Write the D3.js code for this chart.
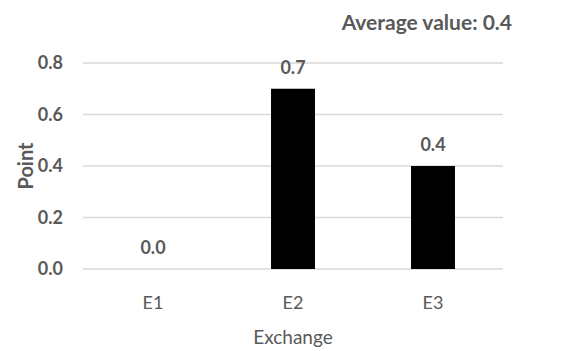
<!DOCTYPE html>
<html>
<head>
<meta charset="utf-8">
<script src="https://cdn.jsdelivr.net/npm/d3@7"></script>
<style>
  body { margin: 0; background: #fff; }
  text { font-family: Lato, "Open Sans", sans-serif; fill: #595959; }
</style>
</head>
<body>
<script>
// chart data
const categories = ["E1", "E2", "E3"];
const values = [0.0, 0.7, 0.4];
const yTicks = [0, 0.2, 0.4, 0.6, 0.8];
const averageLabel = "Average value: 0.4";

const width = 570;
const height = 351;
const marginTop = 63;
const marginRight = 67;
const marginBottom = 82;
const marginLeft = 83;

const svg = d3.select("body")
    .append("svg")
    .attr("width", width)
    .attr("height", height);

const x = d3.scaleBand()
    .domain(categories)
    .range([marginLeft, width - marginRight])
    .paddingInner(0.686)
    .paddingOuter(0.343);

const y = d3.scaleLinear()
    .domain([0, 0.8])
    .range([height - marginBottom, marginTop]);

// gridlines
svg.append("g")
    .selectAll("line")
    .data(yTicks)
    .join("line")
    .attr("x1", marginLeft)
    .attr("x2", width - marginRight)
    .attr("y1", d => y(d))
    .attr("y2", d => y(d))
    .attr("stroke", "#d9d9d9")
    .attr("stroke-width", 1.5);

// y axis labels
const yAxis = svg.append("g")
    .attr("transform", `translate(${marginLeft - 8},0)`)
    .call(d3.axisLeft(y).tickValues(yTicks).tickFormat(d3.format(".1f")).tickSize(0).tickPadding(12));
yAxis.select(".domain").remove();
yAxis.selectAll("text")
    .attr("font-size", 18)
    .attr("font-weight", 700)
    .style("font-family", 'Lato, sans-serif')
    .attr("fill", "#595959");

// x axis labels
const xAxis = svg.append("g")
    .attr("transform", `translate(0,${height - marginBottom})`)
    .call(d3.axisBottom(x).tickSize(0).tickPadding(27));
xAxis.select(".domain").remove();
xAxis.selectAll("text")
    .attr("font-size", 18)
    .style("font-family", 'Lato, sans-serif')
    .attr("fill", "#595959");

// bars
svg.append("g")
    .selectAll("rect")
    .data(values)
    .join("rect")
    .attr("x", (d, i) => x(categories[i]))
    .attr("y", d => y(d))
    .attr("width", x.bandwidth())
    .attr("height", d => y(0) - y(d))
    .attr("fill", "#000");

// value labels
svg.append("g")
    .selectAll("text")
    .data(values)
    .join("text")
    .attr("x", (d, i) => x(categories[i]) + x.bandwidth() / 2)
    .attr("y", d => y(d) - 15)
    .attr("text-anchor", "middle")
    .attr("font-size", 18)
    .attr("font-weight", 700)
    .text(d => d3.format(".1f")(d));

// axis titles
svg.append("text")
    .attr("x", (marginLeft + width - marginRight) / 2)
    .attr("y", 344)
    .attr("text-anchor", "middle")
    .attr("font-size", 19)
    .text("Exchange");

svg.append("text")
    .attr("transform", `translate(33,${(y(0) + y(0.8)) / 2}) rotate(-90)`)
    .attr("text-anchor", "middle")
    .attr("font-size", 20)
    .attr("font-weight", 700)
    .text("Point");

// average annotation
svg.append("text")
    .attr("x", 512)
    .attr("y", 30)
    .attr("text-anchor", "end")
    .attr("font-size", 21)
    .attr("font-weight", 700)
    .text(averageLabel);
</script>
</body>
</html>
